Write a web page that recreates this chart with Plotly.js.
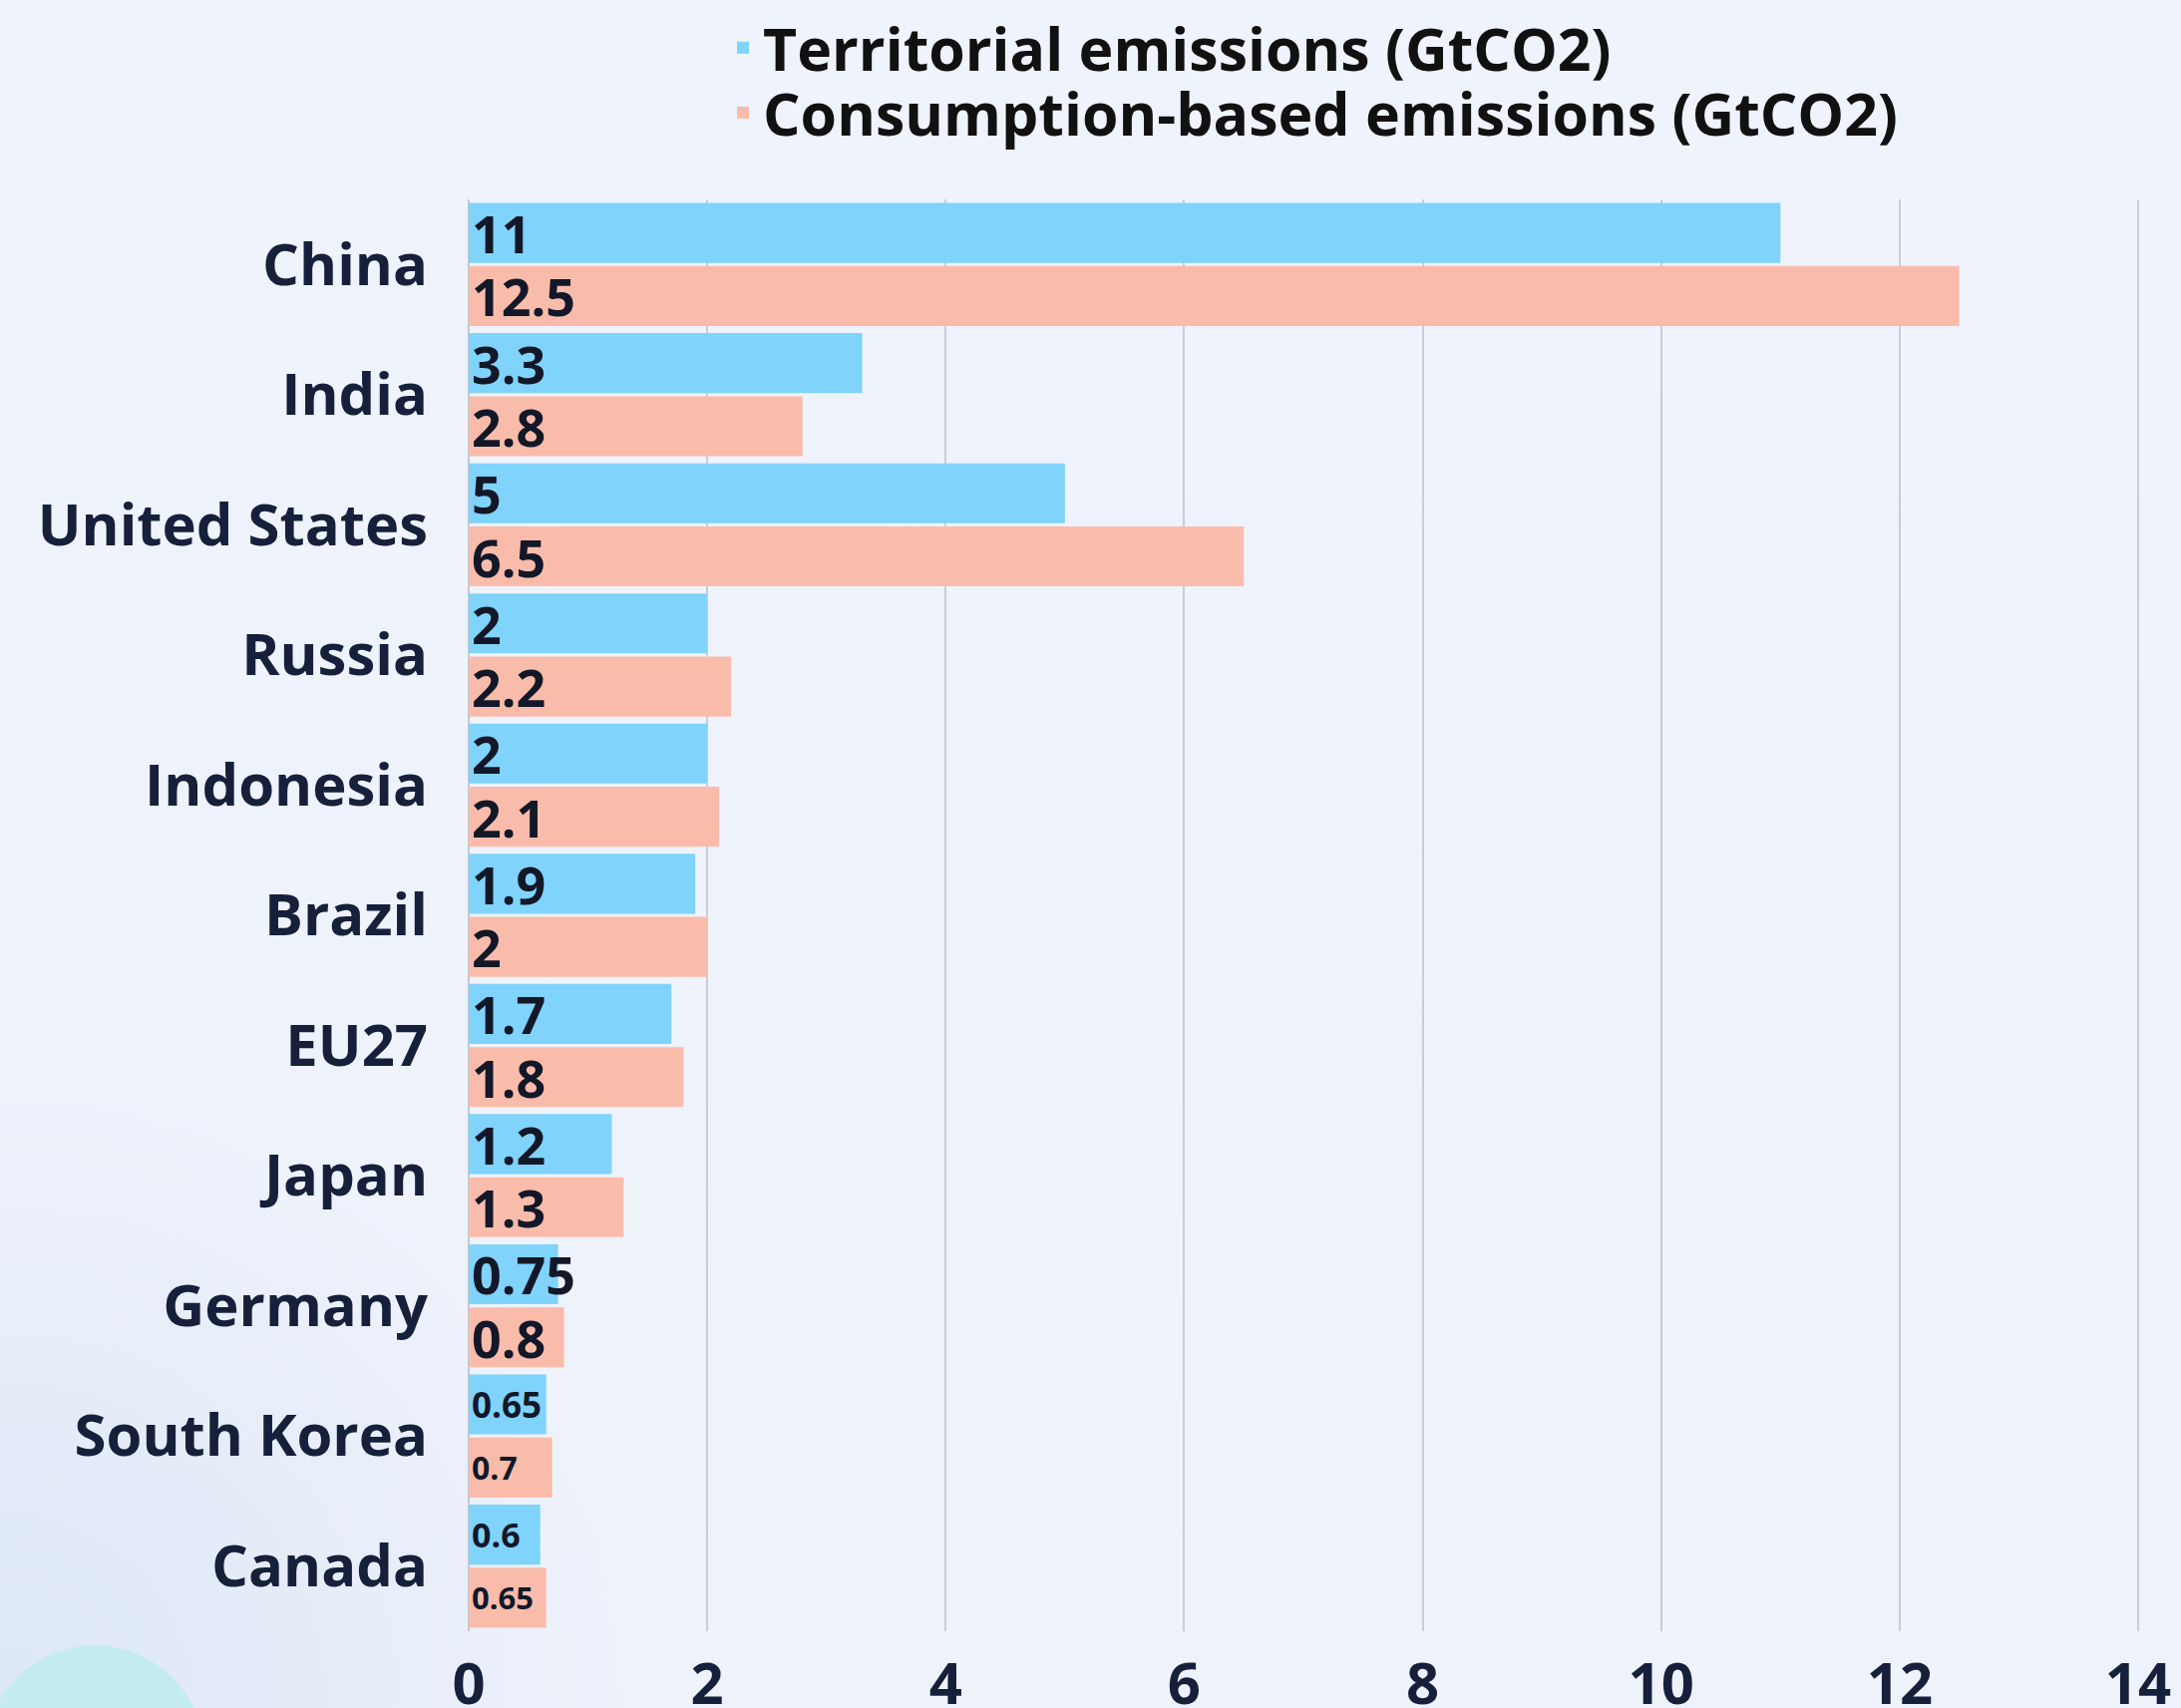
<!DOCTYPE html>
<html>
<head>
<meta charset="utf-8">
<script src="https://cdn.plot.ly/plotly-3.0.1.min.js"></script>
<style>
  html, body { margin: 0; padding: 0; }
  body {
    width: 2187px; height: 1713px; overflow: hidden;
    background:
      radial-gradient(ellipse 650px 650px at 0px 1713px, #dde7f6 0%, rgba(221,231,246,0) 100%),
      linear-gradient(180deg, #eff3fc 0%, #eef2fb 100%);
  }
  #chart { width: 2187px; height: 1713px; }
</style>
</head>
<body>
<div id="chart"></div>
<script>
// ---- Data ----
const categories = ['China', 'India', 'United States', 'Russia', 'Indonesia', 'Brazil', 'EU27', 'Japan', 'Germany', 'South Korea', 'Canada'];
const territorial = [11, 3.3, 5, 2, 2, 1.9, 1.7, 1.2, 0.75, 0.65, 0.6];
const consumption = [12.5, 2.8, 6.5, 2.2, 2.1, 2, 1.8, 1.3, 0.8, 0.7, 0.65];
const seriesNames = ['Territorial emissions (GtCO2)', 'Consumption-based emissions (GtCO2)'];
const xTicks = [0, 2, 4, 6, 8, 10, 12, 14];

// ---- Styles (label font sizes per bar) ----
const territorialLabelSizes = [52, 52, 52, 52, 52, 52, 52, 52, 52, 35, 34];
const consumptionLabelSizes = [52, 52, 52, 52, 52, 52, 52, 52, 52, 32, 31];

const FONT = '"Open Sans", "Liberation Sans", sans-serif';
const INK = '#17203a';

const traces = [
  {
    type: 'bar', orientation: 'h', name: seriesNames[0], legend: 'legend',
    y: categories, x: territorial,
    marker: { color: '#80d3fb' },
    texttemplate: '%{x}', textposition: 'inside', insidetextanchor: 'start',
    textangle: 0, constraintext: 'none', cliponaxis: false,
    insidetextfont: { family: FONT, size: territorialLabelSizes, color: '#121828', weight: 700 },
    hoverinfo: 'skip'
  },
  {
    type: 'bar', orientation: 'h', name: seriesNames[1], legend: 'legend2',
    y: categories, x: consumption,
    marker: { color: '#f9bcab' },
    texttemplate: '%{x}', textposition: 'inside', insidetextanchor: 'start',
    textangle: 0, constraintext: 'none', cliponaxis: false,
    insidetextfont: { family: FONT, size: consumptionLabelSizes, color: '#121828', weight: 700 },
    hoverinfo: 'skip'
  }
];

const legendStyle = {
  xref: 'paper', yref: 'paper', xanchor: 'left', yanchor: 'top',
  bgcolor: 'rgba(0,0,0,0)',
  font: { family: FONT, size: 59, color: '#111111', weight: 700 },
  itemclick: false
};

const layout = {
  width: 2187, height: 1713,
  margin: { l: 470, r: 37, t: 200, b: 77, autoexpand: false },
  paper_bgcolor: 'rgba(0,0,0,0)',
  plot_bgcolor: 'rgba(0,0,0,0)',
  barmode: 'group',
  bargap: 0.03,
  bargroupgap: 0.05,
  font: { family: FONT, color: INK },
  showlegend: true,
  legend: Object.assign({}, legendStyle, { x: 0.1518, y: 1.1372 }),
  legend2: Object.assign({}, legendStyle, { x: 0.1518, y: 1.0919 }),
  xaxis: {
    range: [0, 14.05],
    tickmode: 'array', tickvals: xTicks, ticktext: xTicks.map(String),
    showgrid: true, gridcolor: '#c9cdd8', gridwidth: 2,
    zeroline: true, zerolinecolor: '#c3c8d3', zerolinewidth: 2,
    showline: false, ticks: '',
    ticklabelstandoff: 14,
    tickangle: 0,
    automargin: false,
    tickfont: { family: FONT, size: 58, color: INK, weight: 700 },
    fixedrange: true
  },
  yaxis: {
    type: 'category',
    autorange: 'reversed',
    showgrid: false, zeroline: false, showline: false, ticks: '',
    ticklabelstandoff: 40,
    automargin: false,
    tickfont: { family: FONT, size: 58, color: INK, weight: 700 },
    fixedrange: true
  },
  shapes: [
    {
      type: 'circle', xref: 'paper', yref: 'paper', layer: 'below',
      xsizemode: 'pixel', ysizemode: 'pixel', xanchor: -0.2232, yanchor: -0.0864,
      x0: -110, x1: 110, y0: -110, y1: 110,
      fillcolor: '#c4ecef', line: { width: 0 }
    }
  ]
};

Plotly.newPlot('chart', traces, layout, { displayModeBar: false, staticPlot: true });
</script>
</body>
</html>
